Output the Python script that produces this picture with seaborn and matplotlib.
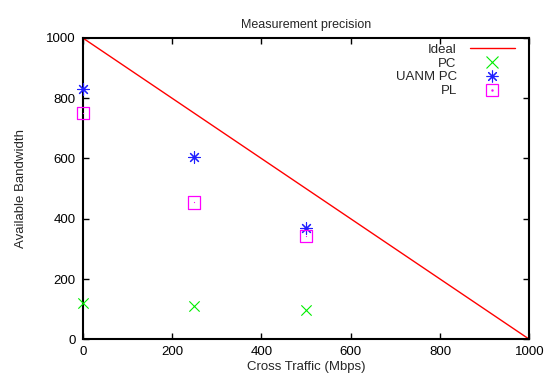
import numpy as np
import pandas as pd
import matplotlib
matplotlib.use("Agg")
import matplotlib.pyplot as plt
import seaborn as sns
from matplotlib.lines import Line2D

# --- donnees ---
ideal_x = [0, 1000]
ideal_y = [1000, 0]
cross_traffic = [0, 250, 500]
pc_bw = [121, 111, 97]
uanm_pc_bw = [832, 604, 368]
pl_bw = [750, 454, 342]

sns.set_theme(style="ticks")
plt.rcParams['font.family'] = ['Liberation Sans', 'DejaVu Sans']

fig = plt.figure(figsize=(5.48, 3.81), dpi=100)
ax = fig.add_axes([0.151, 0.1094, 0.815, 0.791])

RED = "#ff0000"
GREEN = "#00ee00"
BLUE = "#2020ff"
MAGENTA = "#ff00ff"

df_ideal = pd.DataFrame({"x": ideal_x, "y": ideal_y})
sns.lineplot(data=df_ideal, x="x", y="y", color=RED, lw=1.0, ax=ax)

df = pd.DataFrame({"x": cross_traffic, "pc": pc_bw, "uanm": uanm_pc_bw, "pl": pl_bw})
sns.scatterplot(data=df, x="x", y="pc", marker="x", s=55, color=GREEN,
                linewidth=0.8, ax=ax, clip_on=False, zorder=5)
sns.scatterplot(data=df, x="x", y="uanm", marker=(8, 2, 0), s=70,
                edgecolor=BLUE, color=BLUE, linewidth=0.8, ax=ax, clip_on=False, zorder=5)
sns.scatterplot(data=df, x="x", y="pl", marker="s", s=75, facecolor="none",
                edgecolor=MAGENTA, linewidth=0.9, ax=ax, clip_on=False, zorder=5)
sns.scatterplot(data=df, x="x", y="pl", marker=".", s=3, color=MAGENTA,
                linewidth=0, ax=ax, clip_on=False, zorder=5)

ax.set_xlim(0, 1000)
ax.set_ylim(0, 1000)
ax.set_xticks(np.arange(0, 1001, 200))
ax.set_yticks(np.arange(0, 1001, 200))
ax.tick_params(direction="in", length=4, width=1.0, top=True, right=True,
               labelsize=9.5, colors="black", pad=5)
for sp in ax.spines.values():
    sp.set_linewidth(1.5)
    sp.set_color("black")

ax.set_xlabel("Cross Traffic (Mbps)", fontsize=9.5, labelpad=2)
ax.set_ylabel("Available Bandwidth", fontsize=9.5, labelpad=14)
ax.set_title("Measurement precision", fontsize=9, pad=7)

handles = [
    Line2D([], [], color=RED, lw=1.0),
    Line2D([], [], color=GREEN, marker="x", ls="none", ms=8, mew=0.8),
    Line2D([], [], color=BLUE, marker=(8, 2, 0), ls="none", ms=8.5, mew=0.8),
    (Line2D([], [], color=MAGENTA, marker="s", ls="none", ms=8, mfc="none", mew=0.9),
     Line2D([], [], color=MAGENTA, marker=".", ls="none", ms=1.5)),
]
labels = ["Ideal", "PC", "UANM PC", "PL"]
ax.legend(handles, labels, loc="upper right", bbox_to_anchor=(0.985, 1.008),
          frameon=False, markerfirst=False, fontsize=9.5, handlelength=3.4,
          handletextpad=1.0, labelspacing=0.12, borderaxespad=0.2)

fig.savefig("out.png", dpi=100)
